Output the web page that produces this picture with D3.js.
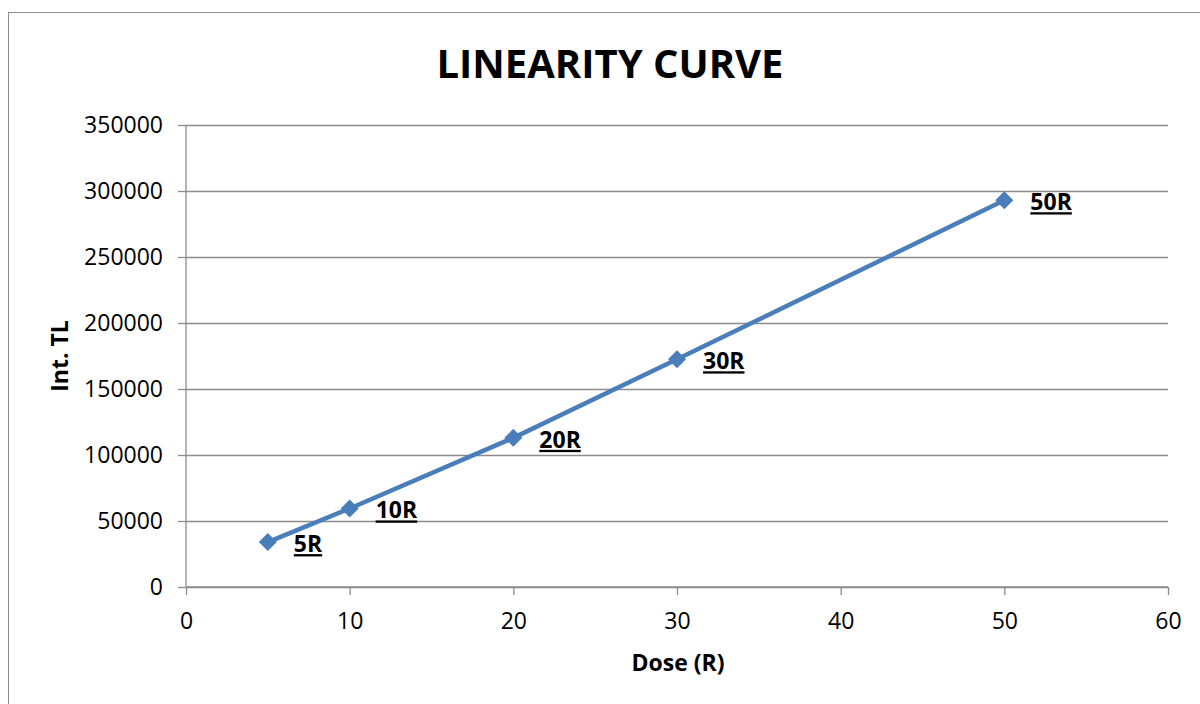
<!DOCTYPE html>
<html>
<head>
<meta charset="utf-8">
<script src="https://cdn.jsdelivr.net/npm/d3@7"></script>
<style>
  body { margin: 0; background: #fff; }
  svg text { font-family: "Open Sans", "Liberation Sans", sans-serif; }
</style>
</head>
<body>
<div id="chart"></div>
<script>
// Linearity curve: integrated TL vs dose
const doses = [5, 10, 20, 30, 50];
const intTL = [34000, 59500, 113000, 172500, 293000];
const pointLabels = ['5R', '10R', '20R', '30R', '50R'];
const xTicks = [0, 10, 20, 30, 40, 50, 60];
const yTicks = [0, 50000, 100000, 150000, 200000, 250000, 300000, 350000];

const W = 1200, H = 704;
const margin = { left: 186, right: 32, top: 125, bottom: 117 };
const width = W - margin.left - margin.right;
const height = H - margin.top - margin.bottom;

const svg = d3.select('#chart').append('svg')
  .attr('width', W)
  .attr('height', H);

// outer chart border
svg.append('rect')
  .attr('x', 8.5).attr('y', 12.5)
  .attr('width', 1200).attr('height', 720)
  .attr('fill', 'none')
  .attr('stroke', '#8c8c8c')
  .attr('stroke-width', 1);

const g = svg.append('g')
  .attr('transform', `translate(${margin.left},${margin.top})`);

const x = d3.scaleLinear().domain([0, 60]).range([0, width]);
const y = d3.scaleLinear().domain([0, 350000]).range([height, 0]);

// gridlines
g.append('g')
  .selectAll('line')
  .data(yTicks)
  .join('line')
  .attr('x1', 0).attr('x2', width)
  .attr('y1', d => Math.round(y(d)) + 0.5)
  .attr('y2', d => Math.round(y(d)) + 0.5)
  .attr('stroke', '#8c8c8c')
  .attr('stroke-width', 1.3);

// y axis
const yAxis = g.append('g')
  .call(d3.axisLeft(y).tickValues(yTicks).tickSize(8).tickPadding(15).tickFormat(d3.format('d')));
yAxis.selectAll('line, path').attr('stroke', '#8c8c8c').attr('stroke-width', 1.3);
yAxis.select('.domain').attr('d', `M0,0V${height}`);
yAxis.selectAll('text').attr('fill', '#000').attr('font-size', '23px');

// x axis
const xAxis = g.append('g')
  .attr('transform', `translate(0,${height})`)
  .call(d3.axisBottom(x).tickValues(xTicks).tickSize(8).tickPadding(18));
xAxis.selectAll('line, path').attr('stroke', '#8c8c8c').attr('stroke-width', 1.3);
xAxis.select('.domain').attr('d', `M0,0H${width}`);
xAxis.selectAll('text').attr('fill', '#000').attr('font-size', '23px');

const data = doses.map((d, i) => ({ dose: d, tl: intTL[i], label: pointLabels[i] }));

// series line
g.append('path')
  .datum(data)
  .attr('fill', 'none')
  .attr('stroke', '#4a7ebb')
  .attr('stroke-width', 4.5)
  .attr('d', d3.line().x(d => x(d.dose)).y(d => y(d.tl)));

// diamond markers
g.selectAll('.marker')
  .data(data)
  .join('path')
  .attr('class', 'marker')
  .attr('transform', d => `translate(${x(d.dose)},${y(d.tl)})`)
  .attr('d', 'M0,-9L9,0L0,9L-9,0Z')
  .attr('fill', '#4a7ebb');

// point labels
g.selectAll('.plabel')
  .data(data)
  .join('text')
  .attr('class', 'plabel')
  .attr('x', d => x(d.dose) + 26)
  .attr('y', d => y(d.tl) + 10)
  .attr('font-size', '23px')
  .attr('font-weight', 'bold')
  .attr('text-decoration', 'underline')
  .attr('fill', '#000')
  .text(d => d.label);

// title
svg.append('text')
  .attr('x', 610).attr('y', 78)
  .attr('text-anchor', 'middle')
  .attr('font-size', '40px')
  .attr('font-weight', 'bold')
  .attr('fill', '#000')
  .text('LINEARITY CURVE');

// axis titles
svg.append('text')
  .attr('x', 678).attr('y', 671)
  .attr('text-anchor', 'middle')
  .attr('font-size', '23px')
  .attr('font-weight', 'bold')
  .attr('fill', '#000')
  .text('Dose (R)');

svg.append('text')
  .attr('transform', 'translate(68,356) rotate(-90)')
  .attr('text-anchor', 'middle')
  .attr('font-size', '23px')
  .attr('font-weight', 'bold')
  .attr('fill', '#000')
  .text('Int. TL');
</script>
</body>
</html>
